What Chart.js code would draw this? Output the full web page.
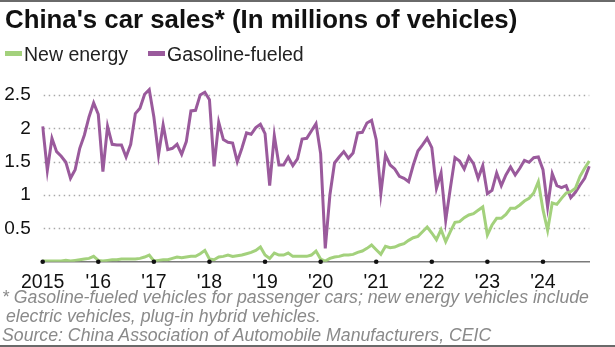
<!DOCTYPE html>
<html>
<head>
<meta charset="utf-8">
<script src="https://cdn.jsdelivr.net/npm/chart.js@4.4.1/dist/chart.umd.min.js"></script>
<style>
  body { margin: 0; background: #fff; }
  #wrap { position: relative; width: 615px; height: 347px; overflow: hidden; font-family: "Liberation Sans", Arial, sans-serif; }
  #chart { position: absolute; left: 0; top: 0; }
  .txt { position: absolute; white-space: nowrap; line-height: 1; }
  #title { left: 5px; top: 7px; font-size: 25.8px; font-weight: bold; color: #111; }
  #legend { left: 5px; top: 45px; font-size: 19.5px; color: #222; }
  .sw { display: inline-block; width: 17px; height: 5px; vertical-align: middle; margin-right: 2px; position: relative; top: -2px; }
  .note { left: 2px; font-size: 17.7px; font-style: italic; color: #8a8a8a; }
  #rule-top { position: absolute; left: 0; top: 0; width: 615px; height: 2px; background: #6a6a6a; }
  #rule-bot { position: absolute; left: 0; top: 345px; width: 615px; height: 2px; background: #6a6a6a; }
</style>
</head>
<body>
<div id="wrap">
  <canvas id="chart" width="615" height="347"></canvas>
  <div id="rule-top"></div>
  <div class="txt" id="title">China's car sales* (In millions of vehicles)</div>
  <div class="txt" id="legend">
    <span class="sw" style="background:#a3d17c"></span>New energy<span style="display:inline-block;width:20px"></span><span class="sw" style="background:#9a5a9c"></span>Gasoline-fueled
  </div>
  <div class="txt note" style="top:289px">* Gasoline-fueled vehicles for passenger cars; new energy vehicles include</div>
  <div class="txt note" style="top:308px;left:6px">electric vehicles, plug-in hybrid vehicles.</div>
  <div class="txt note" style="top:327px">Source: China Association of Automobile Manufacturers, CEIC</div>
  <div id="rule-bot"></div>
</div>
<script>
// year tick labels, one per January
const yearLabels = ['2015', "'16", "'17", "'18", "'19", "'20", "'21", "'22", "'23", "'24"];
const yTicks = [0.5, 1, 1.5, 2, 2.5];

// monthly sales, millions of vehicles, Jan 2015 - Nov 2024
const newEnergy = [
    0.01, 0.01, 0.01, 0.01, 0.01, 0.02, 0.01, 0.02, 0.03, 0.04, 0.05, 0.08,
    0.02, 0.01, 0.02, 0.03, 0.03, 0.04, 0.04, 0.04, 0.04, 0.05, 0.07, 0.10,
    0.01, 0.02, 0.03, 0.03, 0.05, 0.07, 0.06, 0.07, 0.08, 0.08, 0.12, 0.17,
    0.04, 0.03, 0.07, 0.08, 0.10, 0.08, 0.09, 0.10, 0.12, 0.14, 0.17, 0.22,
    0.10, 0.05, 0.13, 0.10, 0.10, 0.13, 0.08, 0.08, 0.08, 0.08, 0.10, 0.16,
    0.04, 0.01, 0.05, 0.07, 0.08, 0.10, 0.10, 0.11, 0.14, 0.16, 0.20, 0.25,
    0.18, 0.11, 0.23, 0.21, 0.22, 0.25, 0.27, 0.32, 0.36, 0.38, 0.45, 0.52,
    0.43, 0.33, 0.48, 0.30, 0.45, 0.59, 0.60, 0.66, 0.70, 0.72, 0.77, 0.82,
    0.40, 0.55, 0.65, 0.65, 0.71, 0.80, 0.80, 0.85, 0.91, 0.95, 1.03, 1.20,
    0.78, 0.47, 0.88, 0.86, 0.95, 1.03, 1.05, 1.10, 1.28, 1.40, 1.51
];
const gasoline = [
    2.03, 1.37, 1.85, 1.65, 1.58, 1.49, 1.25, 1.38, 1.70, 1.90, 2.17, 2.38,
    2.21, 1.35, 2.03, 1.76, 1.75, 1.75, 1.57, 1.76, 2.22, 2.30, 2.51, 2.58,
    2.17, 1.60, 2.05, 1.68, 1.70, 1.76, 1.61, 1.80, 2.26, 2.27, 2.50, 2.54,
    2.43, 1.43, 2.09, 1.83, 1.79, 1.78, 1.50, 1.70, 1.93, 1.91, 2.01, 2.06,
    1.92, 1.14, 1.89, 1.45, 1.45, 1.57, 1.44, 1.54, 1.84, 1.85, 1.96, 2.07,
    1.62, 0.20, 1.00, 1.48, 1.57, 1.65, 1.55, 1.63, 1.93, 1.94, 2.08, 2.12,
    1.83, 1.02, 1.60, 1.45, 1.39, 1.28, 1.25, 1.20, 1.45, 1.66, 1.75, 1.85,
    1.71, 1.10, 1.33, 0.62, 1.10, 1.56, 1.51, 1.39, 1.57, 1.47, 1.25, 1.44,
    1.02, 1.07, 1.33, 1.14, 1.30, 1.42, 1.30, 1.40, 1.52, 1.49, 1.56, 1.57,
    1.38, 0.82, 1.32, 1.14, 1.11, 1.14, 0.96, 1.04, 1.15, 1.25, 1.43
];

const months = gasoline.map((v, i) => (2015 + Math.floor(i / 12)) + '-' + (i % 12 + 1));

// dotted horizontal grid lines at the y ticks
const dottedGrid = {
    id: 'dottedGrid',
    beforeDatasetsDraw(chart) {
        const ctx = chart.ctx;
        const y = chart.scales.y;
        const area = chart.chartArea;
        ctx.save();
        ctx.strokeStyle = '#a8a8a8';
        ctx.lineWidth = 1.4;
        ctx.setLineDash([1.5, 3.5]);
        yTicks.forEach(v => {
            const py = Math.round(y.getPixelForValue(v)) + 0.5;
            ctx.beginPath();
            ctx.moveTo(area.left + 1, py);
            ctx.lineTo(area.right, py);
            ctx.stroke();
        });
        ctx.restore();
    }
};

// black dots on the baseline at each year
const yearDots = {
    id: 'yearDots',
    afterDatasetsDraw(chart) {
        const ctx = chart.ctx;
        const x = chart.scales.x;
        const y0 = chart.chartArea.bottom;
        ctx.save();
        ctx.fillStyle = '#111';
        yearLabels.forEach((lab, k) => {
            ctx.beginPath();
            ctx.arc(x.getPixelForValue(k * 12), y0, 2.3, 0, Math.PI * 2);
            ctx.fill();
        });
        ctx.restore();
    }
};

const font = "'Liberation Sans', Arial, sans-serif";

new Chart(document.getElementById('chart'), {
    type: 'line',
    data: {
        labels: months,
        datasets: [
            { label: 'New energy', data: newEnergy, borderColor: '#a3d17c', borderWidth: 3, pointRadius: 0, tension: 0 },
            { label: 'Gasoline-fueled', data: gasoline, borderColor: '#9a5a9c', borderWidth: 3, pointRadius: 0, tension: 0 }
        ]
    },
    options: {
        responsive: false,
        animation: false,
        layout: { padding: { top: 81.6, bottom: 55.3, left: 0, right: 25.7 } },
        plugins: { legend: { display: false }, tooltip: { enabled: false } },
        scales: {
            x: {
                type: 'category',
                offset: false,
                afterFit: s => { s.height = 30; },
                grid: { display: false },
                border: { display: true, color: '#7a7a7a', width: 1.5 },
                ticks: {
                    autoSkip: false,
                    maxRotation: 0,
                    padding: 1,
                    color: '#111',
                    font: { family: font, size: 19.5 },
                    callback: (v, i) => (i % 12 === 0 ? yearLabels[i / 12] : null)
                }
            },
            y: {
                min: 0,
                max: 2.7,
                afterFit: s => { s.width = 42.7; },
                afterBuildTicks: s => { s.ticks = yTicks.map(v => ({ value: v })); },
                border: { display: false },
                grid: { display: false },
                ticks: {
                    padding: 4,
                    color: '#111',
                    font: { family: font, size: 19 },
                    callback: v => String(v)
                }
            }
        }
    },
    plugins: [dottedGrid, yearDots]
});
</script>
</body>
</html>
